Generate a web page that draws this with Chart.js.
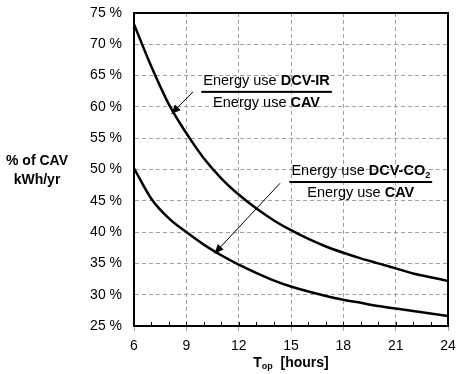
<!DOCTYPE html>
<html><head><meta charset="utf-8">
<script src="https://cdn.jsdelivr.net/npm/chart.js@4/dist/chart.umd.min.js"></script>
<style>html,body{margin:0;padding:0;background:#fff}#wrap{width:465px;height:374px}</style>
</head><body><div id="wrap"><canvas id="c" width="465" height="374"></canvas></div>
<script>
const hours = [6,7,8,9,10,11,12,13,14,15,16,17,18,19,20,21,22,23,24];
const dcvIR  = [73.2,66.4,60.4,55.8,51.8,48.6,46.0,43.8,41.9,40.3,38.9,37.7,36.7,35.8,35.0,34.2,33.4,32.8,32.2];
const dcvCO2 = [50.2,45.3,42.2,40.0,38.0,36.3,34.8,33.5,32.3,31.3,30.5,29.8,29.2,28.7,28.2,27.8,27.4,27.0,26.6];
const xTicks = [6,9,12,15,18,21,24];
const yTicks = [25,30,35,40,45,50,55,60,65,70,75];
// annotation anchors in data units [T, %]
const label1 = {x:13.6, y:62.4};
const arrow1 = {from:[9.38,62.4], to:[8.15,58.9]};
const label2 = {x:19.0, y:48.0};
const arrow2 = {from:[14.37,47.8], to:[10.62,36.6]};

const FONT = '"Liberation Sans", Arial, sans-serif';

function arrow(ctx, x1,y1,x2,y2){
  ctx.save();ctx.strokeStyle='#000';ctx.fillStyle='#000';ctx.lineWidth=1;
  ctx.beginPath();ctx.moveTo(x1,y1);ctx.lineTo(x2,y2);ctx.stroke();
  const a=Math.atan2(y2-y1,x2-x1), L=9, W=4;
  ctx.beginPath();ctx.moveTo(x2,y2);
  ctx.lineTo(x2-L*Math.cos(a)+W*Math.sin(a), y2-L*Math.sin(a)-W*Math.cos(a));
  ctx.lineTo(x2-L*Math.cos(a)-W*Math.sin(a), y2-L*Math.sin(a)+W*Math.cos(a));
  ctx.closePath();ctx.fill();ctx.restore();
}
function parts(ctx, segs, cx, y){
  let w=0; segs.forEach(s=>{ctx.font=s[1]; w+=ctx.measureText(s[0]).width;});
  let x=cx-w/2;
  segs.forEach(s=>{ctx.font=s[1]; ctx.fillText(s[0],x,y+(s[2]||0)); x+=ctx.measureText(s[0]).width;});
  return w;
}
function fraction(ctx, cx, ly, top, bottom){
  ctx.save();ctx.fillStyle='#000';ctx.textBaseline='middle';ctx.textAlign='left';
  const w1=parts(ctx, top, cx, ly-11);
  const w2=parts(ctx, bottom, cx, ly+11);
  const w=Math.max(w1,w2)+4;
  ctx.fillRect(cx-w/2, ly-1, w, 2);
  ctx.restore();
}
const reg='14.5px '+FONT, bold='bold 14.5px '+FONT, sub='bold 9px '+FONT, bold14='bold 14px '+FONT;

const deco = {
  id:'deco',
  afterDatasetsDraw(chart){
    const ctx=chart.ctx, a=chart.chartArea, xs=chart.scales.x, ys=chart.scales.y;
    ctx.save();
    ctx.strokeStyle='#000';ctx.lineWidth=1;
    for(let h=xs.min;h<=xs.max;h++){const px=Math.round(xs.getPixelForValue(h))+0.5;ctx.beginPath();ctx.moveTo(px,a.bottom);ctx.lineTo(px,a.bottom-4);ctx.stroke();}
    ctx.lineWidth=2;ctx.strokeRect(a.left,a.top,a.right-a.left,a.bottom-a.top);
    ctx.restore();
    fraction(ctx, xs.getPixelForValue(label1.x), ys.getPixelForValue(label1.y),
      [['Energy use ',reg],['DCV-IR',bold]], [['Energy use ',reg],['CAV',bold]]);
    fraction(ctx, xs.getPixelForValue(label2.x), ys.getPixelForValue(label2.y),
      [['Energy use ',reg],['DCV-CO',bold],['2',sub,4]], [['Energy use ',reg],['CAV',bold]]);
    arrow(ctx, xs.getPixelForValue(arrow1.from[0]), ys.getPixelForValue(arrow1.from[1]), xs.getPixelForValue(arrow1.to[0]), ys.getPixelForValue(arrow1.to[1]));
    arrow(ctx, xs.getPixelForValue(arrow2.from[0]), ys.getPixelForValue(arrow2.from[1]), xs.getPixelForValue(arrow2.to[0]), ys.getPixelForValue(arrow2.to[1]));
    ctx.save();ctx.fillStyle='#000';ctx.textBaseline='middle';ctx.textAlign='center';
    ctx.font=bold14;ctx.fillText('% of CAV',37,161);ctx.fillText('kWh/yr',37,180);
    ctx.textAlign='left';
    parts(ctx, [['T',bold14],['op',sub,4],['  [hours]',bold14]], (a.left+a.right)/2, 363);
    ctx.restore();
  }
};

new Chart(document.getElementById('c'), {
  type:'line',
  data:{datasets:[
    {data:hours.map((h,i)=>({x:h,y:dcvIR[i]})), borderColor:'#000', borderWidth:2.5, pointRadius:0, cubicInterpolationMode:'monotone', fill:false},
    {data:hours.map((h,i)=>({x:h,y:dcvCO2[i]})), borderColor:'#000', borderWidth:2.5, pointRadius:0, cubicInterpolationMode:'monotone', fill:false}
  ]},
  options:{
    responsive:false, animation:false, devicePixelRatio:1,
    layout:{padding:{left:0,right:17,top:13,bottom:0}},
    plugins:{legend:{display:false}, tooltip:{enabled:false}},
    scales:{
      x:{type:'linear', min:6, max:24,
        afterBuildTicks:s=>{s.ticks=xTicks.map(v=>({value:v}));},
        afterFit:s=>{s.height=48;},
        ticks:{color:'#000', font:{size:14, family:FONT}, padding:7, maxRotation:0},
        grid:{color:'#a0a0a0', lineWidth:1, tickLength:5},
        border:{display:true,color:'#000',width:2,dash:[4,3]}
      },
      y:{min:25, max:75,
        afterBuildTicks:s=>{s.ticks=yTicks.map(v=>({value:v}));},
        afterFit:s=>{s.width=134; s.paddingTop=0; s.paddingBottom=0;},
        ticks:{color:'#000', font:{size:14, family:FONT}, padding:12, callback:v=>v+' %'},
        grid:{color:'#a0a0a0', lineWidth:1, drawTicks:false},
        border:{display:true,color:'#000',width:2,dash:[4,3]}
      }
    }
  },
  plugins:[deco]
});
</script></body></html>
